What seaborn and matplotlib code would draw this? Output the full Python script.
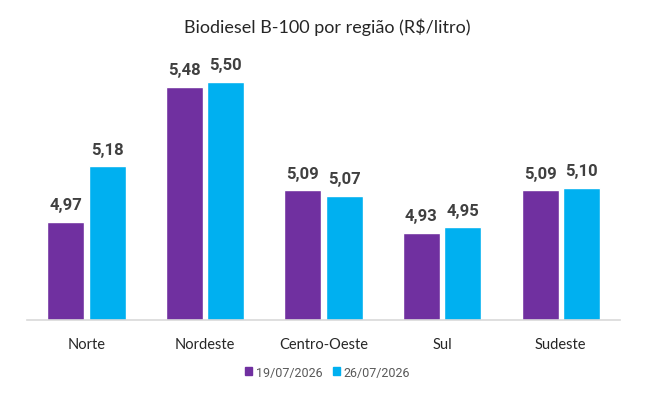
import pandas as pd
import matplotlib
matplotlib.use('Agg')
import matplotlib.pyplot as plt
import seaborn as sns

# dados
regioes = ['Norte', 'Nordeste', 'Centro-Oeste', 'Sul', 'Sudeste']
semana1 = [4.97, 5.48, 5.09, 4.93, 5.09]
semana2 = [5.18, 5.50, 5.07, 4.95, 5.10]
datas = ['19/07/2026', '26/07/2026']
cores = ['#7030A0', '#00B0F0']

df = pd.DataFrame({
    'regiao': regioes * 2,
    'valor': semana1 + semana2,
    'data': [datas[0]] * 5 + [datas[1]] * 5,
})

sns.set_style('white')
plt.rcParams['font.family'] = ['Lato', 'DejaVu Sans']

fig = plt.figure(figsize=(6.59, 4.06), dpi=100)
ax = fig.add_axes([0.041, 0.209, 0.9, 0.692])

sns.barplot(data=df, x='regiao', y='valor', hue='data', palette=cores,
            saturation=1, width=0.70, gap=0.11, ax=ax, legend=False)

ax.set_ylim(4.60, 5.66)
ax.set_xlim(-0.5, 4.5)

for cont in ax.containers:
    labels = [f'{v:.2f}'.replace('.', ',') for v in cont.datavalues]
    ax.bar_label(cont, labels=labels, padding=7, fontsize=12, fontweight='bold',
                 color='#404040', family=['Roboto', 'DejaVu Sans'])

sns.despine(ax=ax, left=True, top=True, right=True)
ax.spines['bottom'].set_color('#d9d9d9')
ax.spines['bottom'].set_linewidth(1.2)
ax.set_yticks([])
ax.set_xlabel('')
ax.set_ylabel('')
ax.tick_params(axis='x', length=0, pad=12, labelsize=10.5, labelcolor='#262626')

fig.text(0.497, 0.934, 'Biodiesel B-100 por região (R$/litro)', ha='center', va='center',
         fontsize=13, color='#262626')

# legenda
handles = [plt.Rectangle((0, 0), 1, 1, color=c) for c in cores]
fig.legend(handles, datas, loc='center', bbox_to_anchor=(0.497, 0.081), ncol=2,
           frameon=False, handlelength=0.6, handleheight=0.6, handletextpad=0.3,
           columnspacing=0.8, prop={'family': ['Roboto', 'DejaVu Sans'], 'size': 9},
           labelcolor='#595959')

fig.savefig('out.png', dpi=100)
